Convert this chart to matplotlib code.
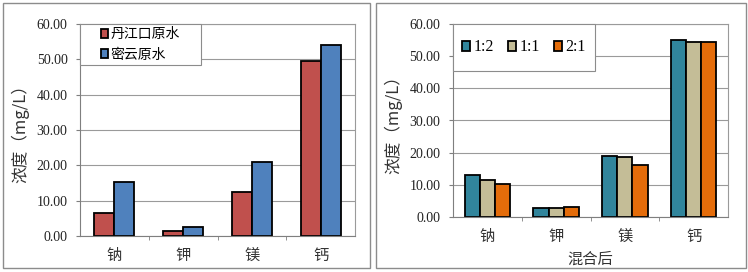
import matplotlib.pyplot as plt
import matplotlib.patches as mpatches
import numpy as np

plt.rcParams['font.family'] = ['Liberation Serif', 'Noto Sans CJK SC']

# ---------------- data ----------------
elements = ["钠", "钾", "镁", "钙"]

raw_names = ["丹江口原水", "密云原水"]
danjiangkou = [6.4, 1.5, 12.4, 49.6]
miyun = [15.3, 2.5, 20.9, 54.0]

mix_names = ["1:2", "1:1", "2:1"]
mix_12 = [13.0, 2.7, 19.1, 55.0]
mix_11 = [11.6, 2.7, 18.7, 54.3]
mix_21 = [10.3, 3.0, 16.3, 54.3]

yticks = [0, 10, 20, 30, 40, 50, 60]

W, H = 748, 272
fig = plt.figure(figsize=(W / 100, H / 100), dpi=100)


def px_axes(x0, y0, x1, y1):
    return fig.add_axes([x0 / W, (H - y1) / H, (x1 - x0) / W, (y1 - y0) / H])


# panel frames
for (x0, y0, x1, y1) in [(3, 3, 370, 268), (376, 3, 746, 268)]:
    fig.patches.append(mpatches.Rectangle((x0 / W, (H - y1) / H), (x1 - x0) / W, (y1 - y0) / H,
                                          transform=fig.transFigure, fill=False,
                                          edgecolor="#8c8c8c", linewidth=1.0))


def style_axes(ax):
    ax.set_ylim(0, 60)
    ax.set_xlim(-0.5, 3.5)
    ax.set_yticks(yticks)
    ax.set_yticklabels(["%.2f" % v for v in yticks], fontsize=10, color="#222222")
    ax.yaxis.grid(True, color="#9a9a9a", linewidth=0.8)
    ax.set_axisbelow(True)
    for s in ["top", "right"]:
        ax.spines[s].set_color("#9a9a9a")
        ax.spines[s].set_linewidth(0.8)
    for s in ["left", "bottom"]:
        ax.spines[s].set_color("#7f7f7f")
        ax.spines[s].set_linewidth(0.8)
    ax.set_xticks(range(len(elements)))
    ax.set_xticklabels(elements, family=['Noto Sans CJK SC'], fontsize=11, color="#333333")
    ax.tick_params(axis="x", length=0, pad=8)
    ax.tick_params(axis="y", length=3, color="#7f7f7f", pad=6)
    ax.set_xticks([0.5, 1.5, 2.5], minor=True)
    ax.tick_params(axis="x", which="minor", length=3, color="#7f7f7f")
    ax.set_ylabel("浓度（mg/L）", family=['Noto Sans CJK SC', 'DejaVu Sans'],
                  fontsize=12, color="#333333", labelpad=5)


def legend_box(ax, w, h, **kw):
    # white box with gray border in the upper left corner, legend centred in it
    ax.add_patch(mpatches.Rectangle((0, 1 - h), w, h, transform=ax.transAxes,
                                    facecolor="white", edgecolor="#8c8c8c",
                                    linewidth=0.8, zorder=4, clip_on=False))
    leg = ax.legend(loc="center", bbox_to_anchor=(w / 2, 1 - h / 2), borderaxespad=0,
                    frameon=False, borderpad=0, handlelength=0.5, handleheight=0.6, **kw)
    leg.set_zorder(5)
    return leg


# ---------------- left panel ----------------
ax1 = px_axes(80, 24, 355, 236)
x = np.arange(len(elements))
bw = 0.29
ax1.bar(x - bw / 2, danjiangkou, bw, color="#C0504D", edgecolor="black", linewidth=1.3,
        label=raw_names[0])
ax1.bar(x + bw / 2, miyun, bw, color="#4F81BD", edgecolor="black", linewidth=1.3,
        label=raw_names[1])
style_axes(ax1)
legend_box(ax1, 121 / 275, 41 / 212, prop={"family": "Noto Sans CJK SC", "size": 10},
           handletextpad=0.2, labelspacing=0.45)

# ---------------- right panel ----------------
ax2 = px_axes(453, 24, 728, 217)
bw2 = 0.22
ax2.bar(x - bw2, mix_12, bw2, color="#31859C", edgecolor="black", linewidth=1.3, label=mix_names[0])
ax2.bar(x, mix_11, bw2, color="#C4BD97", edgecolor="black", linewidth=1.3, label=mix_names[1])
ax2.bar(x + bw2, mix_21, bw2, color="#E46C0A", edgecolor="black", linewidth=1.3, label=mix_names[2])
style_axes(ax2)
ax2.set_xlabel("混合后", family=['Noto Sans CJK SC'], fontsize=11, color="#333333", labelpad=4)
legend_box(ax2, 142 / 275, 47 / 193, ncol=3, prop={"size": 11.5},
           handletextpad=0.2, columnspacing=0.9)

fig.savefig("out.png", dpi=100)
